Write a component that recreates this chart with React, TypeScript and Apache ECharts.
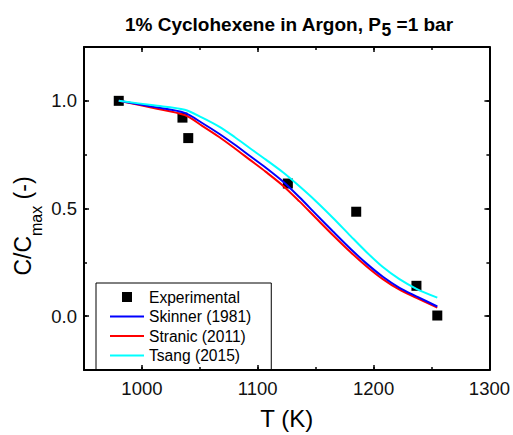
import React, { useEffect, useRef } from "react";
import * as echarts from "echarts";

const EXP_T = [980, 1035, 1040, 1126, 1185, 1237, 1255];
const EXP_C = [1.0, 0.922, 0.827, 0.616, 0.485, 0.141, 0.003];

const MODEL_T = [980, 1010, 1037, 1052, 1067, 1080, 1093, 1107, 1122, 1136, 1150, 1165, 1180, 1194, 1208, 1222, 1237, 1255];
const SKINNER = [1.0, 0.972, 0.944, 0.897, 0.846, 0.797, 0.745, 0.689, 0.624, 0.552, 0.475, 0.393, 0.313, 0.244, 0.183, 0.133, 0.092, 0.045];
const STRANIC = [1.0, 0.967, 0.934, 0.884, 0.831, 0.78, 0.727, 0.67, 0.605, 0.533, 0.457, 0.376, 0.298, 0.231, 0.172, 0.124, 0.085, 0.04];
const TSANG = [1.0, 0.979, 0.959, 0.922, 0.879, 0.832, 0.781, 0.727, 0.667, 0.603, 0.535, 0.456, 0.373, 0.297, 0.228, 0.173, 0.127, 0.086];

const X_MAJOR = [1000, 1100, 1200, 1300];
const Y_MAJOR = [0, 0.5, 1.0];

const FONT = "'Liberation Sans', Arial, sans-serif";
const LINE_ICON = "path://M0,0L34,0L34,2L0,2Z";
const SQUARE_ICON = "path://M0,0L10,0L10,10L0,10Z";

export default function App() {
  const ref = useRef<HTMLDivElement>(null);
  useEffect(() => {
    if (!ref.current) return;
    const chart = echarts.init(ref.current, undefined, { renderer: "svg" });
    const pair = (xs: number[], ys: number[]) => xs.map((x, i) => [x, ys[i]]);
    const lineAxis = { show: true, onZero: false, lineStyle: { color: "#000", width: 2 } };
    const noLine = { show: false, onZero: false };
    const tickMinor = { show: true, inside: true, length: 3, lineStyle: { color: "#000", width: 1.5 } };
    const xBase = { type: "value", min: 950, max: 1300, interval: 50, splitLine: { show: false } };
    const yBase = { type: "value", min: -0.25, max: 1.25, interval: 0.25, splitLine: { show: false } };
    const option: any = {
      animation: false,
      backgroundColor: "#fff",
      title: {
        text: "{a|1% Cyclohexene in Argon, P}{s|5}{a| =1 bar}",
        left: 125,
        top: 15,
        padding: 0,
        textStyle: {
          rich: {
            a: { fontFamily: FONT, fontSize: 19, fontWeight: "bold", color: "#000", verticalAlign: "bottom", padding: [0, 0, 5, 0] },
            s: { fontFamily: FONT, fontSize: 17.5, fontWeight: "bold", color: "#000", verticalAlign: "bottom" },
          },
        },
      },
      grid: { left: 84, top: 47, right: 23, bottom: 58 },
      xAxis: [
        {
          ...xBase,
          position: "bottom",
          axisLine: lineAxis,
          axisTick: tickMinor,
          axisLabel: {
            customValues: X_MAJOR,
            formatter: (v: number) => String(v),
            fontFamily: FONT,
            fontSize: 18.5,
            color: "#111",
            margin: 9,
          },
          name: "T (K)",
          nameLocation: "middle",
          nameGap: 36,
          nameTextStyle: { fontFamily: FONT, fontSize: 24, color: "#000" },
        },
        {
          ...xBase,
          position: "bottom",
          axisLine: noLine,
          axisTick: { ...tickMinor, length: 5, customValues: X_MAJOR },
          axisLabel: { show: false },
        },
        {
          ...xBase,
          position: "top",
          axisLine: lineAxis,
          axisTick: tickMinor,
          axisLabel: { show: false },
        },
        {
          ...xBase,
          position: "top",
          axisLine: noLine,
          axisTick: { ...tickMinor, length: 5, customValues: X_MAJOR },
          axisLabel: { show: false },
        },
      ],
      yAxis: [
        {
          ...yBase,
          position: "left",
          axisLine: lineAxis,
          axisTick: tickMinor,
          axisLabel: {
            customValues: Y_MAJOR,
            formatter: (v: number) => v.toFixed(1),
            fontFamily: FONT,
            fontSize: 18.5,
            color: "#111",
            margin: 7,
          },
        },
        {
          ...yBase,
          position: "left",
          axisLine: noLine,
          axisTick: { ...tickMinor, length: 5, customValues: Y_MAJOR },
          axisLabel: { show: false },
        },
        {
          ...yBase,
          position: "right",
          axisLine: lineAxis,
          axisTick: tickMinor,
          axisLabel: { show: false },
        },
        {
          ...yBase,
          position: "right",
          axisLine: noLine,
          axisTick: { ...tickMinor, length: 5, customValues: Y_MAJOR },
          axisLabel: { show: false },
        },
      ],
      legend: {
        orient: "vertical",
        left: 96,
        top: 283,
        padding: [6, 20, 6, 14],
        itemWidth: 34,
        itemHeight: 10,
        itemGap: 3.5,
        borderColor: "#000",
        borderWidth: 1,
        borderRadius: 0,
        textStyle: { fontFamily: FONT, fontSize: 15.6, color: "#000" },
        data: [
          { name: "Experimental", icon: SQUARE_ICON },
          { name: "Skinner (1981)", icon: LINE_ICON },
          { name: "Stranic (2011)", icon: LINE_ICON },
          { name: "Tsang (2015)", icon: LINE_ICON },
        ],
      },
      graphic: [
        {
          type: "text",
          x: 27.5,
          y: 226,
          rotation: Math.PI / 2,
          style: {
            text: "{a|C/C}{b|max}{a| (-)}",
            align: "center",
            verticalAlign: "middle",
            rich: {
              a: { fontFamily: FONT, fontSize: 23, fill: "#000", verticalAlign: "bottom", padding: [0, 0, 10, 0] },
              b: { fontFamily: FONT, fontSize: 16, fill: "#000", verticalAlign: "bottom" },
            },
          },
        },
      ],
      series: [
        {
          name: "Experimental",
          type: "scatter",
          symbol: "rect",
          symbolSize: 10,
          itemStyle: { color: "#000", opacity: 1 },
          data: pair(EXP_T, EXP_C),
          z: 2,
        },
        {
          name: "Stranic (2011)",
          type: "line",
          symbol: "none",
          smooth: 0.3,
          lineStyle: { color: "#ff0000", width: 2 },
          itemStyle: { color: "#ff0000" },
          data: pair(MODEL_T, STRANIC),
          z: 3,
        },
        {
          name: "Skinner (1981)",
          type: "line",
          symbol: "none",
          smooth: 0.3,
          lineStyle: { color: "#0000ff", width: 2 },
          itemStyle: { color: "#0000ff" },
          data: pair(MODEL_T, SKINNER),
          z: 3,
        },
        {
          name: "Tsang (2015)",
          type: "line",
          symbol: "none",
          smooth: 0.3,
          lineStyle: { color: "#00ffff", width: 2 },
          itemStyle: { color: "#00ffff" },
          data: pair(MODEL_T, TSANG),
          z: 3,
        },
      ],
    };
    chart.setOption(option);
    return () => chart.dispose();
  }, []);
  return <div ref={ref} style={{ position: "fixed", left: 0, top: 0, width: 513, height: 435 }} />;
}
